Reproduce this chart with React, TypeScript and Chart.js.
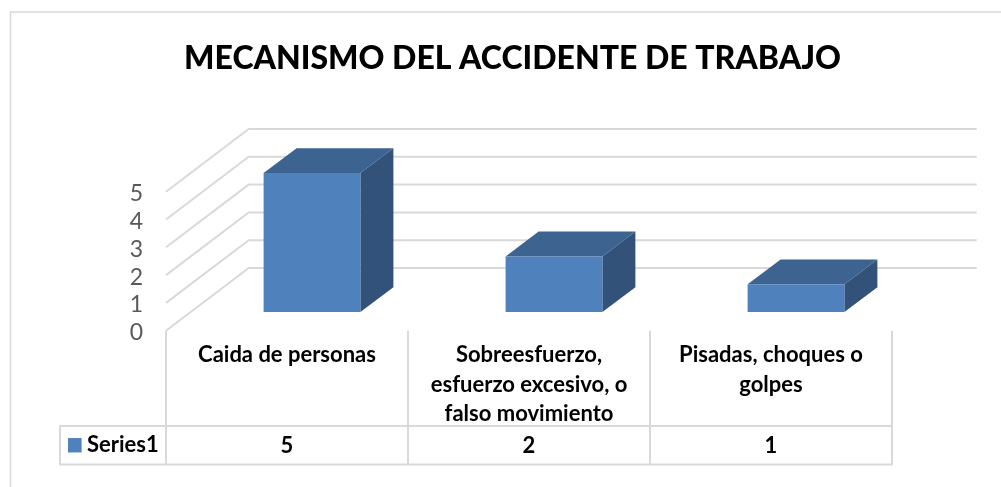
import React, { useEffect, useRef } from "react";
import { Chart, registerables } from "chart.js";

Chart.register(...registerables);

const categories: (string | string[])[] = [
  "Caida de personas",
  ["Sobreesfuerzo,", "esfuerzo excesivo, o", "falso movimiento"],
  ["Pisadas, choques o", "golpes"],
];
const seriesName = "Series1";
const seriesValues = [5, 2, 1];
const titleText = "MECANISMO DEL ACCIDENTE DE TRABAJO";

const FRONT = "#4F81BD";
const TOP = "#3D6390";
const SIDE = "#33527A";
const LINE = "#D9D9D9";
const FONT = "Lato, Carlito, sans-serif";

// Perspective offsets of the oblique 3-D view
const WALL_DX = 82.7;
const WALL_DY = -62.7;
const WALL_RIGHT = 976.7;
const BAR_SHIFT_X = 25;
const BAR_SHIFT_Y = -18.7;
const BAR_DEPTH_X = 33;
const BAR_DEPTH_Y = -24.8;
const TABLE_BOTTOM = 464.5;
const TABLE_ROW_TOP = 426;
const TABLE_LEFT = 60;
const Y_LABEL_NUDGE = 2;

const poly = (ctx: CanvasRenderingContext2D, pts: number[][], fill: string) => {
  ctx.beginPath();
  pts.forEach(([x, y], i) => (i ? ctx.lineTo(x, y) : ctx.moveTo(x, y)));
  ctx.closePath();
  ctx.fillStyle = fill;
  ctx.fill();
};

const scene3d = {
  id: "scene3d",
  afterLayout(chart: any) {
    // centre the title on the full frame rather than the plot
    chart.titleBlock.left = 24;
    chart.titleBlock.right = 1001;
    // seat the value labels on their gridline starts
    const y = chart.scales.y;
    const compute = y._computeLabelItems;
    y._computeLabelItems = function (area: any) {
      return compute.call(y, area).map((it: any) => ({ ...it, textOffset: it.textOffset + Y_LABEL_NUDGE }));
    };
  },
  beforeDraw(chart: any) {
    const ctx: CanvasRenderingContext2D = chart.ctx;
    ctx.save();
    ctx.strokeStyle = LINE;
    ctx.lineWidth = 1.5;
    ctx.beginPath();
    ctx.moveTo(10.5, 487);
    ctx.lineTo(10.5, 12);
    ctx.lineTo(1001, 12);
    ctx.stroke();
    ctx.restore();
  },
  beforeDatasetsDraw(chart: any) {
    const ctx: CanvasRenderingContext2D = chart.ctx;
    const { x, y } = chart.scales;
    ctx.save();
    // wall + side gridlines
    ctx.strokeStyle = LINE;
    ctx.lineWidth = 2;
    y.ticks.forEach((t: any) => {
      const py = y.getPixelForValue(t.value);
      ctx.beginPath();
      ctx.moveTo(x.left, py);
      ctx.lineTo(x.left + WALL_DX, py + WALL_DY);
      ctx.lineTo(WALL_RIGHT, py + WALL_DY);
      ctx.stroke();
    });
    // depth faces of the bars
    chart.getDatasetMeta(0).data.forEach((bar: any) => {
      const l = bar.x - bar.width / 2 + BAR_SHIFT_X;
      const r = bar.x + bar.width / 2 + BAR_SHIFT_X;
      const t = bar.y + BAR_SHIFT_Y;
      const b = bar.base + BAR_SHIFT_Y;
      poly(ctx, [[l, t], [r, t], [r + BAR_DEPTH_X, t + BAR_DEPTH_Y], [l + BAR_DEPTH_X, t + BAR_DEPTH_Y]], TOP);
      poly(ctx, [[r, t], [r + BAR_DEPTH_X, t + BAR_DEPTH_Y], [r + BAR_DEPTH_X, b + BAR_DEPTH_Y], [r, b]], SIDE);
    });
    ctx.restore();
    // the front faces are the library's own bars, moved into the depth of the view
    ctx.save();
    ctx.translate(BAR_SHIFT_X, BAR_SHIFT_Y);
  },
  afterDatasetsDraw(chart: any) {
    const ctx: CanvasRenderingContext2D = chart.ctx;
    ctx.restore();
    const { x } = chart.scales;
    const top = x.top;
    const step = (x.right - x.left) / categories.length;
    ctx.save();
    ctx.strokeStyle = LINE;
    ctx.lineWidth = 2;
    // data table
    for (let i = 0; i <= categories.length; i++) {
      const px = x.left + step * i;
      ctx.beginPath();
      ctx.moveTo(px, top);
      ctx.lineTo(px, TABLE_BOTTOM);
      ctx.stroke();
    }
    ctx.beginPath();
    ctx.rect(TABLE_LEFT, TABLE_ROW_TOP, x.right - TABLE_LEFT, TABLE_BOTTOM - TABLE_ROW_TOP);
    ctx.stroke();
    const midY = (TABLE_ROW_TOP + TABLE_BOTTOM) / 2;
    ctx.fillStyle = FRONT;
    ctx.fillRect(68, midY - 7.2, 13.6, 14.4);
    ctx.fillStyle = "#000000";
    ctx.font = `700 22px ${FONT}`;
    ctx.textBaseline = "middle";
    ctx.textAlign = "left";
    ctx.fillText(seriesName, 87, midY);
    ctx.textAlign = "center";
    seriesValues.forEach((v, i) => {
      ctx.fillText(String(v), x.getPixelForValue(i), midY + 1);
    });
    ctx.restore();
  },
};

export default function App() {
  const ref = useRef<HTMLCanvasElement>(null);
  useEffect(() => {
    const chart = new Chart(ref.current as HTMLCanvasElement, {
      type: "bar",
      data: {
        labels: categories as any,
        datasets: [
          {
            label: seriesName,
            data: seriesValues,
            backgroundColor: FRONT,
            borderWidth: 0,
            barPercentage: 0.4,
            categoryPercentage: 1,
          },
        ],
      },
      options: {
        responsive: false,
        animation: false,
        layout: { padding: { left: 0, right: 109, top: 0, bottom: 0 } },
        plugins: {
          legend: { display: false },
          tooltip: { enabled: false },
          title: {
            display: true,
            text: titleText,
            color: "#000000",
            font: { family: FONT, size: 32, weight: "900", lineHeight: 1.2 },
            padding: { top: 39, bottom: 114.3 },
          },
        },
        scales: {
          x: {
            offset: true,
            grid: { display: false, drawTicks: false },
            border: { display: false },
            afterFit: (s: any) => {
              s.height = 156.3;
            },
            ticks: {
              color: "#000000",
              font: { family: FONT, size: 22, weight: "bold", lineHeight: 1.33 },
              padding: 10,
              autoSkip: false,
              maxRotation: 0,
              minRotation: 0,
            },
          },
          y: {
            min: 0,
            max: 5,
            grid: { display: false, drawTicks: false },
            border: { display: false },
            afterFit: (s: any) => {
              s.width = 166;
            },
            ticks: {
              color: "#595959",
              stepSize: 1,
              autoSkip: false,
              font: { family: FONT, size: 23 },
              padding: 23,
            },
          },
        },
      },
      plugins: [scene3d],
    } as any);
    return () => chart.destroy();
  }, []);
  return (
    <div style={{ position: "absolute", left: 0, top: 0, width: 1001, height: 487 }}>
      <canvas ref={ref} width={1001} height={487} style={{ display: "block" }} />
    </div>
  );
}
